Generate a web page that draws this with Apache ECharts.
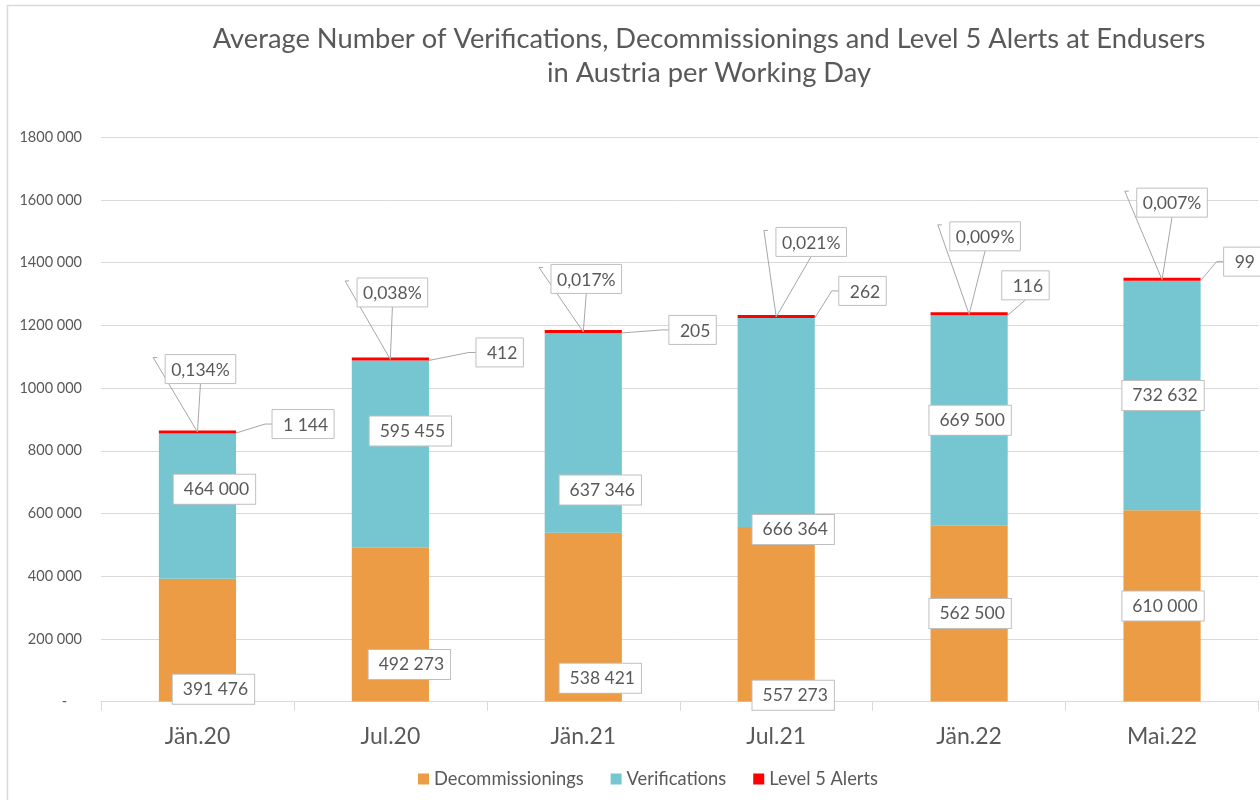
<!DOCTYPE html>
<html>
<head>
<meta charset="utf-8">
<script src="https://cdn.jsdelivr.net/npm/echarts@6/dist/echarts.min.js"></script>
<style>
  html, body { margin: 0; padding: 0; background: #fff; }
  #main { width: 1260px; height: 800px; }
</style>
</head>
<body>
<div id="main"></div>
<script>
// data
const categories = ["Jän.20", "Jul.20", "Jän.21", "Jul.21", "Jän.22", "Mai.22"];
const decommissionings = [391476, 492273, 538421, 557273, 562500, 610000];
const verifications = [464000, 595455, 637346, 666364, 669500, 732632];
const level5Alerts = [1144, 412, 205, 262, 116, 99];
const alertShares = ["0,134%", "0,038%", "0,017%", "0,021%", "0,009%", "0,007%"];

// label placement (pixels), the labels were dragged around by hand in the original
const decomLabelOffset = [[16, 49], [19, 40], [17, 61], [17, 81], [1, 0], [1, 0]];
const verifLabelOffset = [[17, -17], [20, -23], [17, 57], [17, 107], [1, 0], [1, 0]];
const shareBoxOffset = [[3, -64], [2, -68], [3, -54], [35, -76], [16, -79], [10, -78]];
const alertBoxOffset = [[36, -9], [47, -8], [47, -3], [24, -27], [-6, -30], [23, -19]];
const alertAttach = ["left", "left", "left", "left", "bottom", "left"];

const FONT = "Lato";
const GREY = "#595959";

function spaced(v) {
  return String(v).replace(/\B(?=(\d{3})+(?!\d))/g, " ");
}

const ctx = document.createElement("canvas").getContext("2d");
function textWidth(t, size) {
  ctx.font = size + "px " + FONT;
  return ctx.measureText(t).width;
}

function valueLabel(offsets) {
  return offsets.map((o) => ({
    show: true,
    position: "inside",
    offset: o,
    color: GREY,
    fontFamily: FONT,
    fontSize: 17.5,
    lineHeight: 20,
    backgroundColor: "#fff",
    borderColor: "#bfbfbf",
    borderWidth: 1,
    padding: [5, 6, 4, 10],
    textBorderWidth: 0,
    formatter: (p) => spaced(p.value),
  }));
}

function barTop(api, i) {
  let total = decommissionings[i] + verifications[i] + level5Alerts[i];
  return api.coord([i, total]);
}

function renderShare(params, api) {
  let i = api.value(0);
  let p = barTop(api, i);
  let text = alertShares[i];
  let w = textWidth(text, 17.5) + 12;
  let h = 29;
  let cx = p[0] + shareBoxOffset[i][0];
  let cy = p[1] + shareBoxOffset[i][1];
  let left = cx - w / 2;
  let top = cy - h / 2;
  let end = [p[0], p[1] - 1];
  return {
    type: "group",
    children: [
      {
        type: "polyline",
        shape: { points: [[left - 8, top + 3], [left - 12, top + 3], end] },
        style: { stroke: "#a6a6a6", lineWidth: 1, fill: null },
      },
      {
        type: "line",
        shape: { x1: cx, y1: top + h, x2: end[0], y2: end[1] },
        style: { stroke: "#a6a6a6", lineWidth: 1 },
      },
      {
        type: "rect",
        shape: { x: left, y: top, width: w, height: h },
        style: { fill: "#fff", stroke: "#bfbfbf", lineWidth: 1 },
      },
      {
        type: "text",
        x: cx,
        y: cy + 1,
        style: { text: text, font: "17.5px " + FONT, fill: GREY, align: "center", verticalAlign: "middle" },
      },
    ],
  };
}

function renderAlert(params, api) {
  let i = api.value(0);
  let p = barTop(api, i);
  let bw = api.size([1, 0])[0] * 0.4;
  let tr = [p[0] + bw / 2, p[1]];
  let text = spaced(level5Alerts[i]);
  let w = textWidth(text, 17.5) + 17;
  let h = 29;
  let left = tr[0] + alertBoxOffset[i][0];
  let cy = tr[1] + alertBoxOffset[i][1];
  let pts;
  if (alertAttach[i] === "left") {
    pts = [tr, [left - 7, cy], [left, cy]];
  } else {
    pts = [tr, [left + w / 2, cy + h / 2]];
  }
  return {
    type: "group",
    children: [
      { type: "polyline", shape: { points: pts }, style: { stroke: "#a6a6a6", lineWidth: 1, fill: null } },
      {
        type: "rect",
        shape: { x: left, y: cy - h / 2, width: w, height: h },
        style: { fill: "#fff", stroke: "#bfbfbf", lineWidth: 1 },
      },
      {
        type: "text",
        x: left + w - 6,
        y: cy + 1,
        style: { text: text, font: "17.5px " + FONT, fill: GREY, align: "right", verticalAlign: "middle" },
      },
    ],
  };
}

let myChart = echarts.init(document.getElementById("main"));
myChart.setOption({
  animation: false,
  textStyle: { fontFamily: FONT },
  title: {
    text: "Average Number of Verifications, Decommissionings and Level 5 Alerts at Endusers\nin Austria per Working Day",
    left: 709,
    top: 22,
    padding: 0,
    textAlign: "center",
    textStyle: { color: GREY, fontFamily: FONT, fontSize: 27.3, fontWeight: "normal", lineHeight: 34 },
  },
  graphic: [
    {
      type: "rect",
      left: 5,
      top: 3,
      shape: { width: 1400, height: 900 },
      style: { fill: null, stroke: "#d9d9d9", lineWidth: 1.5 },
      silent: true,
    },
  ],
  legend: {
    data: ["Decommissionings", "Verifications", "Level 5 Alerts"],
    left: 413,
    top: 765,
    icon: "rect",
    itemWidth: 11,
    itemHeight: 11,
    itemGap: 27,
    textStyle: { color: GREY, fontFamily: FONT, fontSize: 18.3 },
  },
  grid: { left: 101, right: 1.5, top: 137.3, bottom: 98.4, containLabel: false },
  xAxis: {
    type: "category",
    data: categories,
    axisLine: { lineStyle: { color: "#d9d9d9" } },
    axisTick: { show: true, length: 9, lineStyle: { color: "#d9d9d9" } },
    axisLabel: { color: GREY, fontFamily: FONT, fontSize: 23, margin: 23 },
  },
  yAxis: {
    type: "value",
    min: 0,
    max: 1800000,
    interval: 200000,
    axisLine: { show: false },
    axisTick: { show: false },
    splitLine: { lineStyle: { color: "#d9d9d9" } },
    axisLabel: {
      color: GREY,
      fontFamily: FONT,
      fontSize: 14.5,
      margin: 19,
      formatter: (v) => (v === 0 ? "-    " : Math.floor(v / 1000) + " 000"),
    },
  },
  series: [
    {
      name: "Decommissionings",
      type: "bar",
      stack: "total",
      barWidth: "40%",
      itemStyle: { color: "#eb9c45" },
      data: decommissionings.map((v, i) => ({ value: v, label: valueLabel(decomLabelOffset)[i] })),
      z: 2,
    },
    {
      name: "Verifications",
      type: "bar",
      stack: "total",
      barWidth: "40%",
      itemStyle: { color: "#75c6d0" },
      data: verifications.map((v, i) => ({ value: v, label: valueLabel(verifLabelOffset)[i] })),
      z: 2,
    },
    {
      name: "Level 5 Alerts",
      type: "bar",
      stack: "total",
      barWidth: "40%",
      barMinHeight: 3,
      itemStyle: { color: "#ff0000" },
      data: level5Alerts,
      z: 2,
    },
    {
      name: "share",
      type: "custom",
      renderItem: renderShare,
      data: categories.map((c, i) => [i]),
      encode: { x: 0 },
      clip: false,
      silent: true,
      z: 5,
    },
    {
      name: "alertLabels",
      type: "custom",
      renderItem: renderAlert,
      data: categories.map((c, i) => [i]),
      encode: { x: 0 },
      clip: false,
      silent: true,
      z: 5,
    },
  ],
});
</script>
</body>
</html>
